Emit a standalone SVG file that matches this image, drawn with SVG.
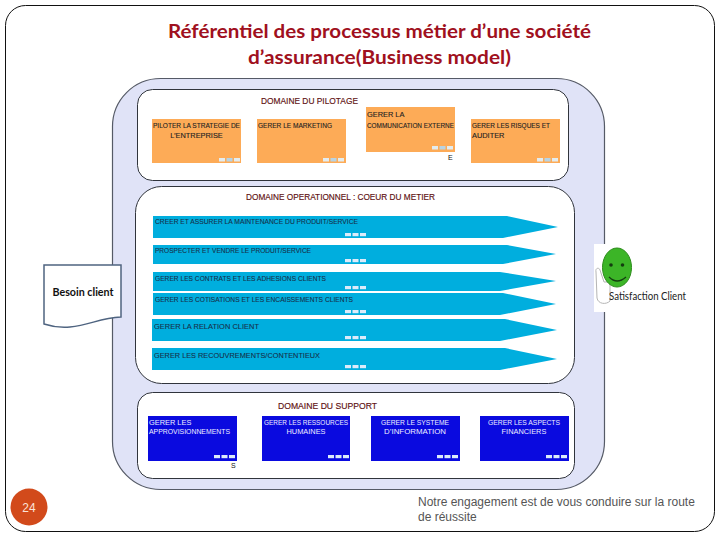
<svg xmlns="http://www.w3.org/2000/svg" width="720" height="540" viewBox="0 0 720 540">
<defs>
<g id="dash"><rect x="0" y="0" width="6" height="3.500" fill="#e3ecef"/><rect x="7.500" y="0" width="6" height="3.500" fill="#b9d3e2"/><rect x="15" y="0" width="6" height="3.500" fill="#e3ecef"/></g>
<g id="dashw"><rect x="0" y="0" width="6" height="3.200" fill="#dcebfa"/><rect x="7.500" y="0" width="6" height="3.200" fill="#dcebfa"/><rect x="15" y="0" width="6" height="3.200" fill="#dcebfa"/></g>
</defs>
<style>
text{font-family:"Liberation Sans",Arial,sans-serif}
.panel{fill:#fff;stroke:#30343c;stroke-width:1}
.dom{fill:#5e1010;font-size:8.600px;stroke:#5e1010;stroke-width:.15}
.o{fill:#fdab57}
.ot{fill:#222;font-size:7.400px;stroke:#222;stroke-width:.12}
.a{fill:#00aede}
.at{fill:#17304a;font-size:7.400px;stroke:#17304a;stroke-width:.1}
.b{fill:#0a0adf}
.bt{fill:#eeeeff;font-size:7.400px}
.title{font-family:Lato,"Open Sans",sans-serif;font-size:18px;font-weight:700;fill:#a01020}
.lato{font-family:Lato,"Open Sans",sans-serif}
</style>
<rect x="5.500" y="5.500" width="709" height="526" rx="20" fill="#fff" stroke="#111" stroke-width="1"/>
<g id="title"><text class="title" x="168" y="38" textLength="423" lengthAdjust="spacingAndGlyphs">Référentiel des processus métier d’une société</text>
<text class="title" x="248" y="64" textLength="263" lengthAdjust="spacingAndGlyphs">d’assurance(Business model)</text></g>
<rect x="112.500" y="78.500" width="492" height="411" rx="48" fill="#e0e3f7" stroke="#555a66" stroke-width="1.200"/>
<g id="pilotage">
<rect class="panel" x="137.500" y="89.500" width="431" height="91" rx="15"/>
<text class="dom" x="261" y="104" textLength="97" lengthAdjust="spacingAndGlyphs">DOMAINE  DU PILOTAGE</text>
<g id="p1"><rect class="o" x="152" y="119" width="89" height="44"/><text class="ot" x="196.500" y="128" text-anchor="middle" textLength="87" lengthAdjust="spacingAndGlyphs">PILOTER LA STRATEGIE DE</text><text class="ot" x="196.500" y="138" text-anchor="middle">L’ENTREPRISE</text><use href="#dash" x="219" y="158"/></g>
<g id="p2"><rect class="o" x="257" y="119" width="89" height="44"/><text class="ot" x="258" y="128" textLength="74" lengthAdjust="spacingAndGlyphs">GERER LE MARKETING</text><use href="#dash" x="323" y="158"/></g>
<g id="p3"><rect class="o" x="366" y="107" width="89" height="45"/><text class="ot" x="367" y="117">GERER LA</text><text class="ot" x="367" y="128" textLength="87" lengthAdjust="spacingAndGlyphs">COMMUNICATION EXTERNE</text><use href="#dash" x="432" y="146"/><text x="448" y="160" font-size="7" fill="#111">E</text></g>
<g id="p4"><rect class="o" x="471" y="119" width="89" height="44"/><text class="ot" x="472" y="128" textLength="78" lengthAdjust="spacingAndGlyphs">GERER LES RISQUES ET</text><text class="ot" x="472" y="138">AUDITER</text><use href="#dash" x="537" y="158"/></g>
</g>
<g id="operationnel">
<rect class="panel" x="135.500" y="186.500" width="439" height="197" rx="26"/>
<text class="dom" x="246" y="200" textLength="189" lengthAdjust="spacingAndGlyphs">DOMAINE OPERATIONNEL : COEUR DU METIER</text>
<g id="o1"><polygon class="a" points="153,216 507,216 558,227 503,238 153,238"/><text class="at" x="155" y="224" textLength="203" lengthAdjust="spacingAndGlyphs">CREER ET ASSURER LA MAINTENANCE DU PRODUIT/SERVICE</text><use href="#dashw" x="345" y="233"/></g>
<g id="o2"><polygon class="a" points="153,245 507,245 556,254 503,264 153,264"/><text class="at" x="155" y="253" textLength="156" lengthAdjust="spacingAndGlyphs">PROSPECTER ET VENDRE LE PRODUIT/SERVICE</text><use href="#dashw" x="345" y="259"/></g>
<g id="o3"><polygon class="a" points="153,272 500,272 556,281 500,291 153,291"/><text class="at" x="155" y="281" textLength="171" lengthAdjust="spacingAndGlyphs">GERER LES CONTRATS ET LES ADHESIONS CLIENTS</text><use href="#dashw" x="345" y="286"/></g>
<g id="o4"><polygon class="a" points="153,293 503,293 556,304 500,315 153,315"/><text class="at" x="155" y="302" textLength="198" lengthAdjust="spacingAndGlyphs">GERER LES COTISATIONS ET LES ENCAISSEMENTS CLIENTS</text><use href="#dashw" x="345" y="310"/></g>
<g id="o5"><polygon class="a" points="152,319 505,319 557,330 500,341 152,341"/><text class="at" x="154" y="329" style="font-size:8px" textLength="105" lengthAdjust="spacingAndGlyphs">GERER  LA RELATION CLIENT</text><use href="#dashw" x="345" y="336"/></g>
<g id="o6"><polygon class="a" points="152,348 505,348 557,359 500,370 152,370"/><text class="at" x="154" y="358" style="font-size:8px" textLength="166" lengthAdjust="spacingAndGlyphs">GERER LES RECOUVREMENTS/CONTENTIEUX</text><use href="#dashw" x="345" y="365"/></g>
</g>
<g id="support">
<rect class="panel" x="137.500" y="392.500" width="437" height="86" rx="15"/>
<text class="dom" x="278" y="409" textLength="99" lengthAdjust="spacingAndGlyphs">DOMAINE DU SUPPORT</text>
<g id="s1"><rect class="b" x="148" y="416" width="89" height="45"/><text class="bt" x="149" y="425">GERER LES</text><text class="bt" x="149" y="434" textLength="81" lengthAdjust="spacingAndGlyphs">APPROVISIONNEMENTS</text><use href="#dashw" x="214" y="455"/><text x="231" y="468" font-size="7" fill="#111">S</text></g>
<g id="s2"><rect class="b" x="262" y="416" width="88" height="45"/><text class="bt" x="306" y="425" text-anchor="middle" textLength="84" lengthAdjust="spacingAndGlyphs">GERER LES RESSOURCES</text><text class="bt" x="306" y="434" text-anchor="middle">HUMAINES</text><use href="#dashw" x="328" y="455"/></g>
<g id="s3"><rect class="b" x="371" y="416" width="89" height="45"/><text class="bt" x="415" y="425" text-anchor="middle" textLength="68" lengthAdjust="spacingAndGlyphs">GERER LE SYSTEME</text><text class="bt" x="415" y="434" text-anchor="middle" textLength="62" lengthAdjust="spacingAndGlyphs">D’INFORMATION</text><use href="#dashw" x="437" y="455"/></g>
<g id="s4"><rect class="b" x="480" y="416" width="89" height="45"/><text class="bt" x="524" y="425" text-anchor="middle" textLength="72" lengthAdjust="spacingAndGlyphs">GERER LES ASPECTS</text><text class="bt" x="524" y="434" text-anchor="middle">FINANCIERS</text><use href="#dashw" x="546" y="455"/></g>
</g>
<g id="besoin">
<path d="M44 265H121V317C100 318 90 325 70 327C58 328 50 326 44 324Z" fill="#fff" stroke="#4f6480" stroke-width="1.500"/>
<text class="lato" x="83" y="296" text-anchor="middle" font-size="12" font-weight="bold" fill="#111" textLength="61" lengthAdjust="spacingAndGlyphs">Besoin client</text>
</g>
<g id="satisfaction">
<rect x="594" y="244" width="44" height="68" fill="#fff"/>
<path d="M596 272C595 268 599 267 600 270L604 282H610V301C606 305 598 304 597 298Z" fill="#fff" stroke="#b5b5b5" stroke-width="1"/>
<ellipse cx="617" cy="267.500" rx="14.500" ry="19.500" fill="#3cb527" stroke="#2d8c1c"/>
<circle cx="611" cy="265" r="1.800" fill="#143d10"/><circle cx="622.500" cy="265" r="1.800" fill="#143d10"/>
<path d="M609 277Q617 285 626 277" fill="none" stroke="#143d10" stroke-width="1.300"/>
<text class="lato" x="609" y="300" font-size="11" fill="#222" textLength="77" lengthAdjust="spacingAndGlyphs">Satisfaction Client</text>
</g>
<g id="page"><circle cx="29" cy="507" r="18.500" fill="#d24a1b"/><text x="29" y="512" text-anchor="middle" font-size="12" fill="#fbe3d8">24</text></g>
<g id="footer" font-size="12" fill="#555"><text x="418" y="506">Notre engagement est de vous conduire sur la route</text><text x="418" y="521">de réussite</text></g>
</svg>
